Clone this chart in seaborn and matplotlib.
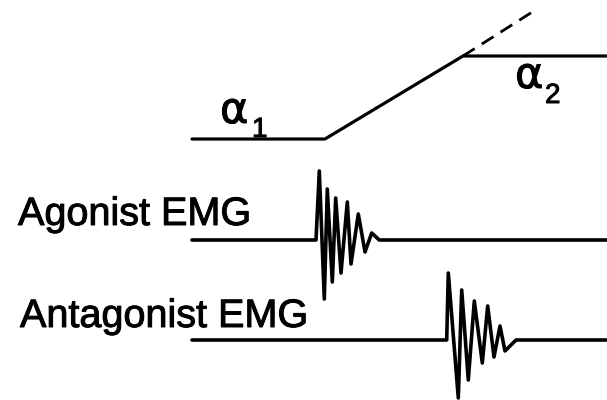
import matplotlib
matplotlib.use("Agg")
import matplotlib.pyplot as plt
import matplotlib.patheffects as pe
import seaborn as sns
import pandas as pd

sns.set_theme(style="white")
plt.rcParams["font.family"] = ["Liberation Sans", "DejaVu Sans"]

# Joint angle trace: alpha_1 hold, ramp, alpha_2 hold (canvas units, y grows downward)
angle_x = [192, 325, 463, 607]
angle_y = [139, 139, 56, 56]
# Extrapolated ramp beyond alpha_2
extrap_x = [463, 537]
extrap_y = [56, 9]

# Agonist EMG trace with a decaying burst at movement onset
agon_x = [192, 316, 319.3, 324.3, 327.3, 332.3, 335.7, 341, 347.3, 351, 358.3, 365, 371.7, 379.3, 607]
agon_y = [240, 240, 171, 299, 189, 282, 198, 273, 202, 264, 214, 252, 233, 240, 240]

# Antagonist EMG trace with a later decaying burst
antag_x = [192, 446.7, 448.3, 458.3, 461.7, 468.3, 474.3, 482.3, 487.7, 494, 500, 505, 516, 607]
antag_y = [340, 340, 273, 398, 290, 380, 301, 363, 306, 357, 326, 351, 340, 340]

trace_labels = ["Agonist EMG", "Antagonist EMG"]
label_pos = [(18, 225), (20, 327)]

fig = plt.figure(figsize=(6.07, 4.00), dpi=100)
ax = fig.add_axes([0, 0, 1, 1])
ax.set_xlim(0, 607)
ax.set_ylim(400, 0)
ax.axis("off")

for xs, ys, lw in [(angle_x, angle_y, 2.3), (agon_x, agon_y, 2.6), (antag_x, antag_y, 2.6)]:
    df = pd.DataFrame({"x": xs, "y": ys})
    sns.lineplot(data=df, x="x", y="y", sort=False, estimator=None,
                 color="black", lw=lw, ax=ax)

df_ext = pd.DataFrame({"x": extrap_x, "y": extrap_y})
sns.lineplot(data=df_ext, x="x", y="y", sort=False, estimator=None,
             color="black", lw=2.0, ax=ax, linestyle=(0, (5.0, 3.0)))

stroke = [pe.withStroke(linewidth=0.7, foreground="black")]
for text, (tx, ty) in zip(trace_labels, label_pos):
    ax.text(tx, ty, text, fontsize=28.5, color="black", ha="left", va="baseline",
            path_effects=stroke)

# Angle labels with subscripts
greek = dict(fontsize=31, color="black", ha="left", va="baseline",
             family="DejaVu Sans", path_effects=stroke)
sub = dict(fontsize=20, color="black", ha="left", va="baseline", path_effects=stroke)
ax.text(220, 123, "\u03b1", **greek)
ax.text(252, 137, "1", **sub)
ax.text(515, 88, "\u03b1", **greek)
ax.text(545, 103, "2", **sub)

ax.set_xlabel("")
ax.set_ylabel("")
fig.savefig("out.png", dpi=100)
